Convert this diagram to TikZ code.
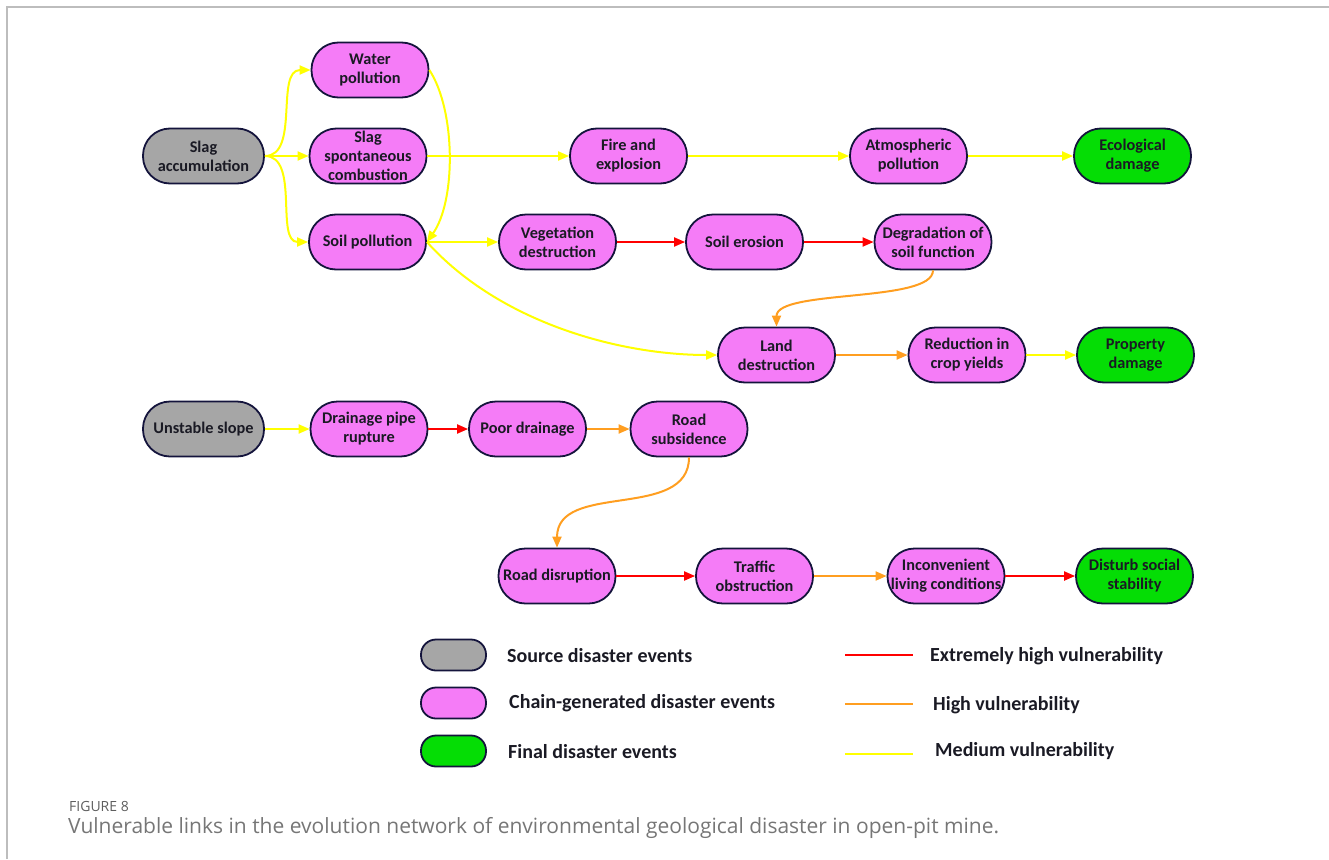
\documentclass[tikz,border=0pt]{standalone}
\usepackage{fontspec}
\setmainfont{Carlito}
\newfontfamily\capfont{Open Sans}
\usetikzlibrary{arrows.meta}

\definecolor{chainpink}{HTML}{F57CF7}
\definecolor{srcgray}{HTML}{A6A6A6}
\definecolor{finalgreen}{HTML}{05DD05}
\definecolor{outline}{HTML}{14143C}
\definecolor{nodetext}{HTML}{1A1A24}
\definecolor{lkred}{HTML}{FF0000}
\definecolor{lkorange}{HTML}{FF9E20}
\definecolor{lkyellow}{HTML}{FFFF00}
\definecolor{framegray}{HTML}{BDBDBD}
\definecolor{captext}{HTML}{5E5E5E}

\tikzset{
  event/.style={draw=outline, line width=1.8pt, rounded corners=27pt,
    minimum width=117pt, minimum height=55pt, inner sep=0pt, align=center,
    font=\fontsize{16.3}{19}\selectfont\bfseries, text=nodetext},
  srcev/.style={event, fill=srcgray, minimum width=121pt},
  chainev/.style={event, fill=chainpink},
  finalev/.style={event, fill=finalgreen},
  keybox/.style={draw=outline, line width=1.8pt, rounded corners=15pt,
    minimum width=65pt, minimum height=31pt, inner sep=0pt},
  link/.style={line width=2pt, -{Triangle[length=11pt,width=9pt]}},
  xhigh/.style={link, lkred},
  high/.style={link, lkorange},
  medium/.style={link, lkyellow},
  keytext/.style={anchor=west, inner sep=0pt, font=\fontsize{20}{23}\selectfont\bfseries, text=nodetext},
}

\begin{document}
\begin{tikzpicture}[x=1pt,y=-1pt]
\useasboundingbox (0,0) rectangle (1329,859);

% frame
\draw[framegray, line width=1.5pt] (7,859) -- (7,7) -- (1329,7);

% ---- first chain: slag accumulation ----
\node[srcev]   (sa)  at (203.5,156) {Slag\\accumulation};
\node[chainev] (wp)  at (370,70)    {Water\\pollution};
\node[chainev] (ssc) at (368,156)   {Slag\\spontaneous\\combustion};
\node[chainev] (sp)  at (367.5,242) {Soil pollution};
\node[chainev] (fe)  at (628.5,156) {Fire and\\explosion};
\node[chainev] (ap)  at (908.5,156) {Atmospheric\\pollution};
\node[finalev] (ed)  at (1132.5,156){Ecological\\damage};
\node[chainev] (vd)  at (557.5,242) {Vegetation\\destruction};
\node[chainev] (se)  at (744.5,242) {Soil erosion};
\node[chainev] (dsf) at (933,242)   {Degradation of\\soil function};
\node[chainev] (ld)  at (776.5,355) {Land\\destruction};
\node[chainev] (rcy) at (967,355)   {Reduction in\\crop yields};
\node[finalev] (pd)  at (1135.5,355){Property\\damage};

% ---- second chain: unstable slope ----
\node[srcev]   (us)  at (203.5,429) {Unstable slope};
\node[chainev] (dpr) at (369,429)   {Drainage pipe\\rupture};
\node[chainev] (pdr) at (527.5,429) {Poor drainage};
\node[chainev] (rs)  at (689,429)   {Road\\subsidence};
\node[chainev] (rd)  at (557,576)   {Road disruption};
\node[chainev] (to)  at (754.5,576) {Traffic\\obstruction};
\node[chainev] (ilc) at (946,576)   {Inconvenient\\living conditions};
\node[finalev] (dss) at (1134.5,576){Disturb social\\stability};

% ---- links ----
\draw[medium] (sa.east) .. controls (300,156) and (275,70) .. (wp.west);
\draw[medium] (sa.east) -- (ssc.west);
\draw[medium] (sa.east) .. controls (300,156) and (275,242) .. (sp.west);
\draw[medium] (wp.east) .. controls (456,111) and (456,201) .. (sp.east);
\draw[medium] (ssc.east) -- (fe.west);
\draw[medium] (fe.east) -- (ap.west);
\draw[medium] (ap.east) -- (ed.west);
\draw[medium] (sp.east) -- (vd.west);
\draw[xhigh]  (vd.east) -- (se.west);
\draw[xhigh]  (se.east) -- (dsf.west);
\draw[high]   (dsf.south) .. controls (933,303) and (776.5,289) .. (ld.north);
\draw[medium] (sp.east) .. controls (500,323) and (620,355) .. (ld.west);
\draw[high]   (ld.east) -- (rcy.west);
\draw[medium] (rcy.east) -- (pd.west);

\draw[medium] (us.east) -- (dpr.west);
\draw[xhigh]  (dpr.east) -- (pdr.west);
\draw[high]   (pdr.east) -- (rs.west);
\draw[high]   (rs.south) .. controls (689,521) and (557,481) .. (rd.north);
\draw[xhigh]  (rd.east) -- (to.west);
\draw[high]   (to.east) -- (ilc.west);
\draw[xhigh]  (ilc.east) -- (dss.west);

% ---- legend ----
\node[keybox, fill=srcgray]    (k1) at (453.5,655) {};
\node[keybox, fill=chainpink]  (k2) at (453.5,703) {};
\node[keybox, fill=finalgreen] (k3) at (453.5,751) {};
\node[keytext] (t1) at (507,656) {Source disaster events};
\node[keytext] (t2) at (509,703) {Chain-generated disaster events};
\node[keytext] (t3) at (508,752) {Final disaster events};

\coordinate (r0) at (845,655);  \coordinate (r1) at (913,655);
\coordinate (o0) at (845,704);  \coordinate (o1) at (913,704);
\coordinate (y0) at (845,754);  \coordinate (y1) at (913,754);
\draw[lkred, line width=2pt]    (r0) -- (r1);
\draw[lkorange, line width=2pt] (o0) -- (o1);
\draw[lkyellow, line width=2pt] (y0) -- (y1);
\node[keytext] (t4) at (930,656) {Extremely high vulnerability};
\node[keytext] (t5) at (933,705) {High vulnerability};
\node[keytext] (t6) at (935,751) {Medium vulnerability};

% ---- caption ----
\node[anchor=base west, inner sep=0pt, text=captext,
  font=\capfont\fontsize{14}{16}\selectfont] (fig) at (69,811) {FIGURE 8};
\node[anchor=base west, inner sep=0pt, text=captext!85,
  font=\capfont\fontsize{21}{24}\selectfont] (cap) at (68,833)
  {Vulnerable links in the evolution network of environmental geological disaster in open-pit mine.};
\end{tikzpicture}
\end{document}
